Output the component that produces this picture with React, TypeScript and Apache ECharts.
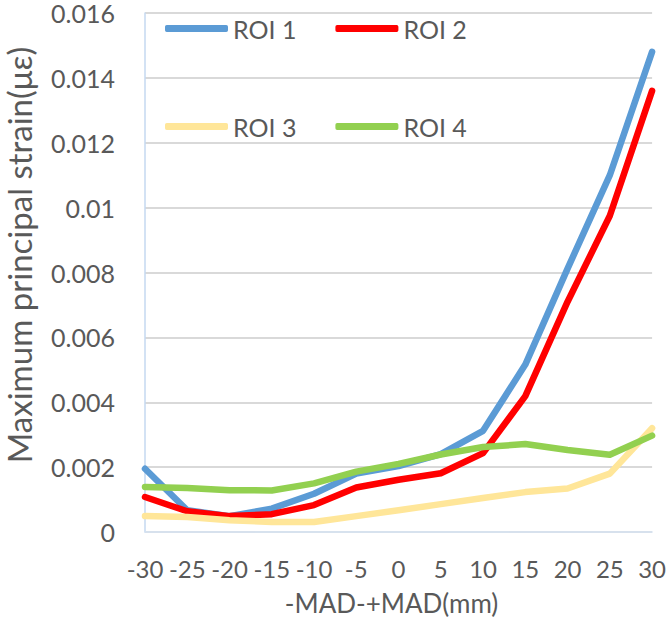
import React, { useEffect, useRef } from "react";
import * as echarts from "echarts";

const categories = ["-30", "-25", "-20", "-15", "-10", "-5", "0", "5", "10", "15", "20", "25", "30"];
const seriesNames = ["ROI 1", "ROI 2", "ROI 3", "ROI 4"];
const roi1 = [0.00195, 0.00067, 0.00049, 0.00072, 0.00118, 0.0018, 0.00203, 0.0024, 0.00312, 0.00516, 0.00812, 0.011, 0.0148];
const roi2 = [0.00108, 0.00064, 0.00049, 0.00055, 0.00083, 0.00137, 0.00161, 0.00181, 0.00243, 0.00419, 0.0071, 0.00975, 0.0136];
const roi3 = [0.00049, 0.00046, 0.00036, 0.00031, 0.00031, 0.00049, 0.00067, 0.00086, 0.00105, 0.00123, 0.00134, 0.0018, 0.0032];
const roi4 = [0.00139, 0.00136, 0.00129, 0.00128, 0.0015, 0.00186, 0.0021, 0.00239, 0.00262, 0.00271, 0.00253, 0.00238, 0.00297];
const colors = ["#5B9BD5", "#FF0000", "#FFE699", "#92D050"];
const yTitle = "Maximum principal strain(με)";
const xTitle = "-MAD-+MAD(mm)";

const FONT = "Lato";
const TXT = "#595959";

export default function App() {
  const ref = useRef<HTMLDivElement>(null);
  useEffect(() => {
    if (!ref.current) return;
    const chart = echarts.init(ref.current, undefined, { renderer: "svg" });
    const values = [roi1, roi2, roi3, roi4];
    const legendCommon = {
      left: 165,
      padding: 0,
      icon: "roundRect",
      itemWidth: 63,
      itemHeight: 7,
      itemGap: 39,
      textStyle: { fontFamily: FONT, fontSize: 25, color: TXT },
    };
    chart.setOption({
      animation: false,
      backgroundColor: "#ffffff",
      textStyle: { fontFamily: FONT },
      color: colors,
      grid: { left: 145, right: 13, top: 13, bottom: 95, containLabel: false },
      legend: [
        { ...legendCommon, top: 16, data: [seriesNames[0], seriesNames[1]] },
        { ...legendCommon, top: 114, data: [seriesNames[2], seriesNames[3]] },
      ],
      xAxis: {
        type: "category",
        data: categories,
        boundaryGap: false,
        axisLine: { show: true, lineStyle: { color: "#D6E4F4", width: 1.5 } },
        axisTick: { show: false },
        axisLabel: { fontFamily: FONT, fontSize: 24, color: TXT, margin: 24, interval: 0 },
        splitLine: { show: false },
        name: xTitle,
        nameLocation: "middle",
        nameGap: 58,
        nameTextStyle: { fontFamily: FONT, fontSize: 26, color: TXT, padding: [0, 14, 0, 0] },
        z: 5,
      },
      yAxis: {
        type: "value",
        min: 0,
        max: 0.016,
        interval: 0.002,
        axisLine: { show: true, lineStyle: { color: "#C5D9F1", width: 1.5 } },
        axisTick: { show: false },
        axisLabel: { fontFamily: FONT, fontSize: 25, color: TXT, margin: 30 },
        splitLine: { show: true, lineStyle: { color: "#D9D9D9", width: 2 } },
      },
      graphic: [
        {
          type: "text",
          x: 19,
          y: 255,
          rotation: Math.PI / 2,
          style: {
            text: yTitle,
            fontFamily: FONT,
            fontSize: 33,
            fill: TXT,
            textAlign: "center",
            textVerticalAlign: "middle",
          },
        },
      ],
      series: values.map((v, i) => ({
        name: seriesNames[i],
        type: "line",
        data: v,
        showSymbol: false,
        symbol: "none",
        lineStyle: { width: 6.5, color: colors[i], cap: "round", join: "round" },
        itemStyle: { color: colors[i] },
        z: 2 + i,
      })),
    });
    return () => chart.dispose();
  }, []);
  return <div ref={ref} style={{ position: "fixed", left: 0, top: 0, width: 669, height: 627 }} />;
}
